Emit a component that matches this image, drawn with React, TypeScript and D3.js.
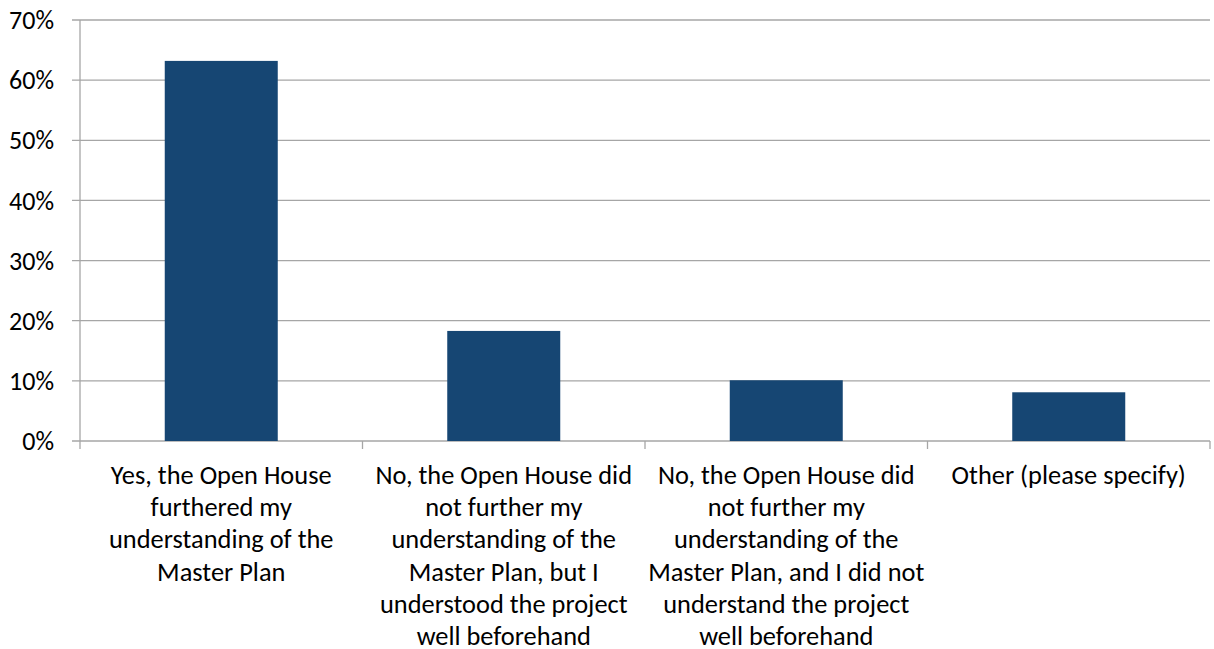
import React from "react";
import * as d3 from "d3";

const categories: string[][] = [
  ["Yes, the Open House", "furthered my", "understanding of the", "Master Plan"],
  ["No, the Open House did", "not further my", "understanding of the", "Master Plan, but I", "understood the project", "well beforehand"],
  ["No, the Open House did", "not further my", "understanding of the", "Master Plan, and I did not", "understand the project", "well beforehand"],
  ["Other (please specify)"],
];
const values: number[] = [0.632, 0.183, 0.101, 0.081];
const yTicks: number[] = [0, 0.1, 0.2, 0.3, 0.4, 0.5, 0.6, 0.7];

const W = 1214;
const H = 649;
const left = 80;
const right = 1210;
const top = 20;
const bottom = 441;
const font = "Carlito, Calibri, 'Open Sans', sans-serif";

export default function App() {
  const idx = categories.map((_, i) => i);
  const x = d3.scaleBand<number>().domain(idx).range([left, right]).paddingInner(0).paddingOuter(0);
  const y = d3.scaleLinear().domain([0, 0.7]).range([bottom, top]);
  const bw = x.bandwidth() * 0.4;
  const fmt = d3.format(".0%");
  const grid = "#a6a6a6";

  return (
    <svg width={W} height={H} style={{ position: "absolute", left: 0, top: 0, background: "#fff" }}>
      {yTicks.map((t) => (
        <g key={t}>
          <line x1={left - 8} x2={right} y1={y(t)} y2={y(t)} stroke={grid} strokeWidth={1.3} />
          <text x={54} y={y(t)} dy="0.35em" textAnchor="end" fontFamily={font} fontSize={26} fill="#000">
            {fmt(t)}
          </text>
        </g>
      ))}
      <line x1={left} x2={left} y1={top} y2={bottom + 8} stroke={grid} strokeWidth={1.3} />
      {idx.map((i) => (
        <line key={"t" + i} x1={x(i)! + x.bandwidth()} x2={x(i)! + x.bandwidth()} y1={bottom} y2={bottom + 8} stroke={grid} strokeWidth={1.3} />
      ))}
      {values.map((v, i) => (
        <rect
          key={"b" + i}
          x={x(i)! + (x.bandwidth() - bw) / 2}
          y={y(v)}
          width={bw}
          height={bottom - y(v)}
          fill="#164673"
        />
      ))}
      {categories.map((lines, i) => (
        <text key={"c" + i} textAnchor="middle" fontFamily={font} fontSize={26.4} fill="#000">
          {lines.map((ln, j) => (
            <tspan key={j} x={x(i)! + x.bandwidth() / 2} y={484 + j * 32.2}>
              {ln}
            </tspan>
          ))}
        </text>
      ))}
    </svg>
  );
}
